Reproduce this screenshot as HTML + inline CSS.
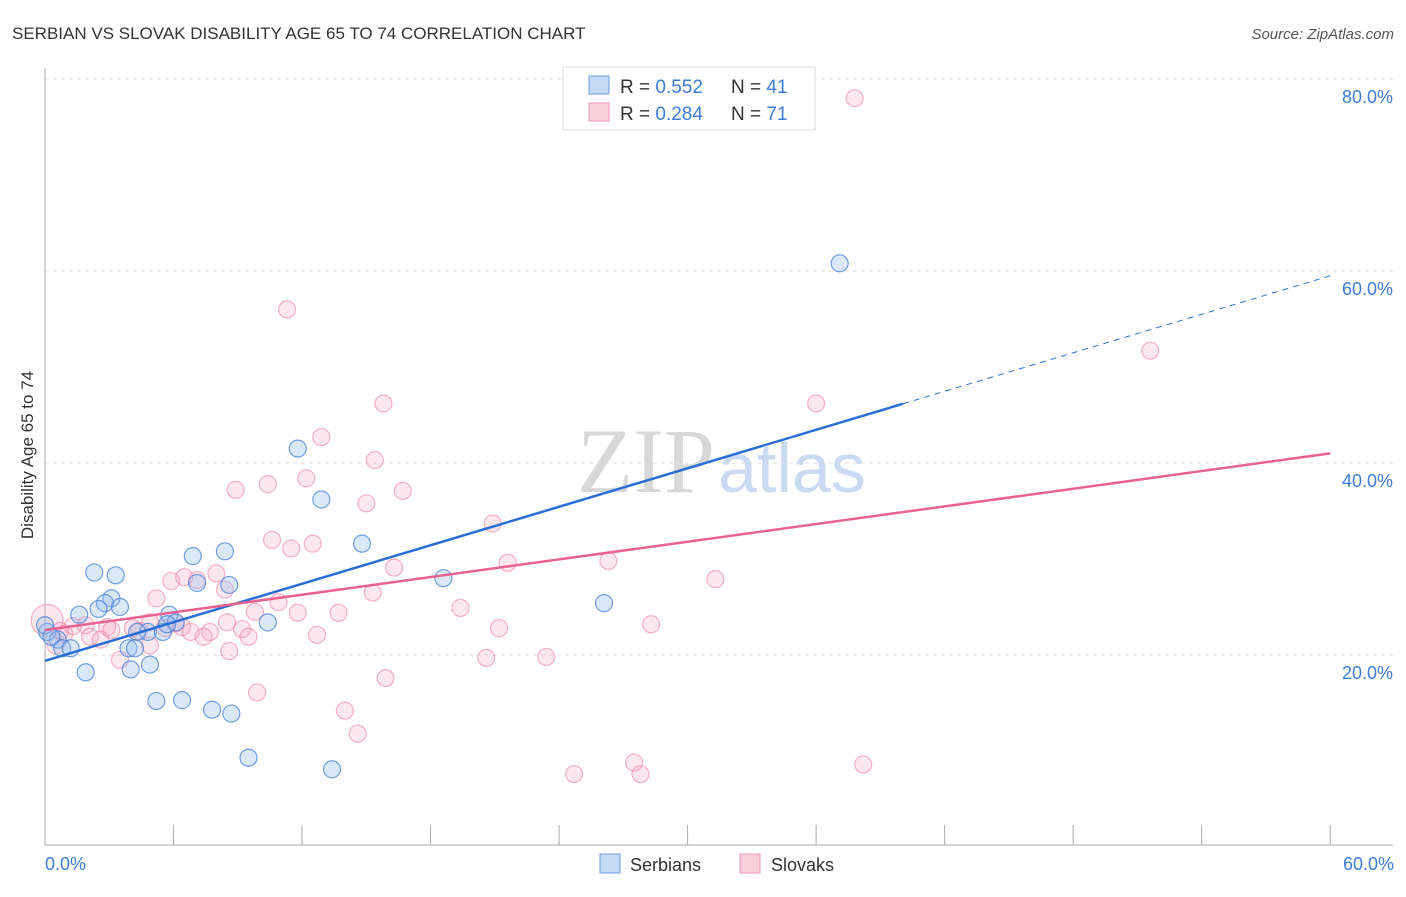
<!DOCTYPE html>
<html><head><meta charset="utf-8"><style>
body{margin:0;background:#fff;font-family:"Liberation Sans",sans-serif}
svg text{font-family:"Liberation Sans",sans-serif}
</style></head><body>
<svg width="1406" height="892" xmlns="http://www.w3.org/2000/svg">
<text x="12" y="39" font-size="17" fill="#333">SERBIAN VS SLOVAK DISABILITY AGE 65 TO 74 CORRELATION CHART</text>
<text x="1394" y="39" font-size="15" fill="#555" font-style="italic" text-anchor="end">Source: ZipAtlas.com</text>
<text x="715" y="492" font-size="92" fill="#d8d8d8" text-anchor="end" style="font-family:'Liberation Serif',serif">ZIP</text>
<text x="718" y="492" font-size="70" fill="#c9daf2">atlas</text>
<g id="grid"></g><g id="axes"></g><g id="pts"></g><g id="lines"></g>
<text transform="translate(33,455) rotate(-90)" font-size="17" fill="#333" text-anchor="middle">Disability Age 65 to 74</text>
<text x="45" y="870" font-size="18" fill="#3d7dd8">0.0%</text>
<text x="1394" y="870" font-size="18" fill="#3d7dd8" text-anchor="end">60.0%</text>
<g>
<rect x="563" y="67" width="252" height="63" fill="#fff" stroke="#ddd"/>
<rect x="589" y="76" width="20" height="18" fill="#c5daf5" stroke="#6d9be0"/>
<rect x="589" y="103" width="20" height="18" fill="#fbd0dc" stroke="#ef9ab3"/>
<text x="620" y="93" font-size="19" fill="#333">R = <tspan fill="#3d7dd8">0.552</tspan></text>
<text x="731" y="93" font-size="19" fill="#333">N = <tspan fill="#3d7dd8">41</tspan></text>
<text x="620" y="120" font-size="19" fill="#333">R = <tspan fill="#3d7dd8">0.284</tspan></text>
<text x="731" y="120" font-size="19" fill="#333">N = <tspan fill="#3d7dd8">71</tspan></text>
</g>
<g>
<rect x="600" y="854" width="20" height="19" fill="#c5daf5" stroke="#6d9be0"/>
<text x="630" y="871" font-size="18" fill="#333">Serbians</text>
<rect x="740" y="854" width="20" height="19" fill="#fbd0dc" stroke="#ef9ab3"/>
<text x="771" y="871" font-size="18" fill="#333">Slovaks</text>
</g>
</svg>
<script>
const yTicks=[20,40,60,80];
const yTickLabels=["20.0%","40.0%","60.0%","80.0%"];
const xTicks=[0,6,12,18,24,30,36,42,48,54,60];
const serbX=[37.1,11.8,12.9,14.8,18.6,26.1,6.9,8.4,2.3,3.3,7.1,8.6,3.1,2.8,3.5,2.5,1.6,5.8,6.1,10.4,0.1,4.8,5.5,4.3,0.6,0.8,1.2,3.9,4.2,4.9,4.0,1.9,5.2,6.4,7.8,8.7,9.5,13.4,0.0,0.3,5.7];
const serbY=[60.8,41.5,36.2,31.6,28.0,25.4,30.3,30.8,28.6,28.3,27.5,27.3,25.9,25.4,25.0,24.8,24.2,24.2,23.4,23.4,22.4,22.4,22.4,22.4,21.6,20.7,20.7,20.7,20.7,19.0,18.5,18.2,15.2,15.3,14.3,13.9,9.3,8.1,23.1,21.9,23.2];
const slovX=[37.8,11.3,51.6,15.8,36.0,12.9,15.4,12.2,8.9,10.4,16.7,15.0,20.9,10.6,12.5,11.5,21.6,26.3,16.3,31.3,8.0,5.9,6.5,7.1,15.3,8.4,5.2,9.8,10.9,11.8,13.7,19.4,8.5,4.9,6.4,2.9,1.9,21.2,28.3,7.7,9.2,6.1,4.4,2.1,12.7,7.4,9.5,0.9,2.6,3.5,20.6,23.4,9.9,15.9,14.0,14.6,24.7,27.5,27.8,38.2,0.1,1.3,0.5,4.1,5.6,4.9,0.7,3.1,6.8,8.6];
const slovY=[78.0,56.0,51.7,46.2,46.2,42.7,40.3,38.4,37.2,37.8,37.1,35.8,33.7,32.0,31.6,31.1,29.6,29.8,29.1,27.9,28.5,27.7,28.1,27.8,26.5,26.8,25.9,24.5,25.5,24.4,24.4,24.9,23.4,23.4,22.9,22.9,23.1,22.8,23.2,22.4,22.7,23.3,22.5,21.9,22.1,21.9,21.9,22.2,21.6,19.5,19.7,19.8,16.1,17.6,14.2,11.8,7.6,8.8,7.6,8.6,23.6,23.0,21.0,22.8,22.8,21.0,22.5,22.6,22.4,20.4];
const serbTrend=[19.4,59.5], serbSolidEnd=40.06;
const slovTrend=[22.6,41.0];
const X=v=>45+v*21.42, Y=v=>847-v*9.6;
const NS="http://www.w3.org/2000/svg";
function mk(t,a,p){const e=document.createElementNS(NS,t);for(const k in a)e.setAttribute(k,a[k]);document.getElementById(p).appendChild(e);return e;}
yTicks.forEach((t,i)=>{
 const l=mk('line',{x1:45,x2:1393,y1:Y(t),y2:Y(t),stroke:'#ddd','stroke-dasharray':'4,4'},'grid');
 
 
 const tx=mk('text',{x:1393,y:Y(t)+24,'font-size':18,fill:'#3d7dd8','text-anchor':'end'},'grid');tx.textContent=yTickLabels[i];
 
 
});
const ax=mk('line',{x1:45,x2:1393,y1:845,y2:845,stroke:'#aaa'},'axes');


const ay=mk('line',{x1:45,x2:45,y1:68,y2:845,stroke:'#aaa'},'axes');


xTicks.forEach(t=>{const l=mk('line',{x1:X(t),x2:X(t),y1:825,y2:845,stroke:'#aaa'},'axes');
 
 });
slovX.forEach((v,i)=>{const c=mk('circle',{cx:X(v),cy:Y(slovY[i]),r:i==60?16:8.5,fill:'rgba(246,170,195,0.28)',stroke:'rgba(236,130,160,0.6)','stroke-width':1.2},'pts');
 
 });
serbX.forEach((v,i)=>{const c=mk('circle',{cx:X(v),cy:Y(serbY[i]),r:8.5,fill:'rgba(150,190,240,0.35)',stroke:'rgba(70,130,220,0.75)','stroke-width':1.2},'pts');
 
 });
const sy=x=>serbTrend[0]+(serbTrend[1]-serbTrend[0])*x/60;
const b=mk('line',{x1:X(0),y1:Y(sy(0)),x2:X(serbSolidEnd),y2:Y(sy(serbSolidEnd)),stroke:'#2a6fd6','stroke-width':2.5},'lines');


const bd=mk('line',{x1:X(serbSolidEnd),y1:Y(sy(serbSolidEnd)),x2:X(60),y2:Y(sy(60)),stroke:'#2a6fd6','stroke-width':1,'stroke-dasharray':'6,5'},'lines');


const p=mk('line',{x1:X(0),y1:Y(slovTrend[0]),x2:X(60),y2:Y(slovTrend[1]),stroke:'#e8638f','stroke-width':2.5},'lines');


</script>
</body></html>
